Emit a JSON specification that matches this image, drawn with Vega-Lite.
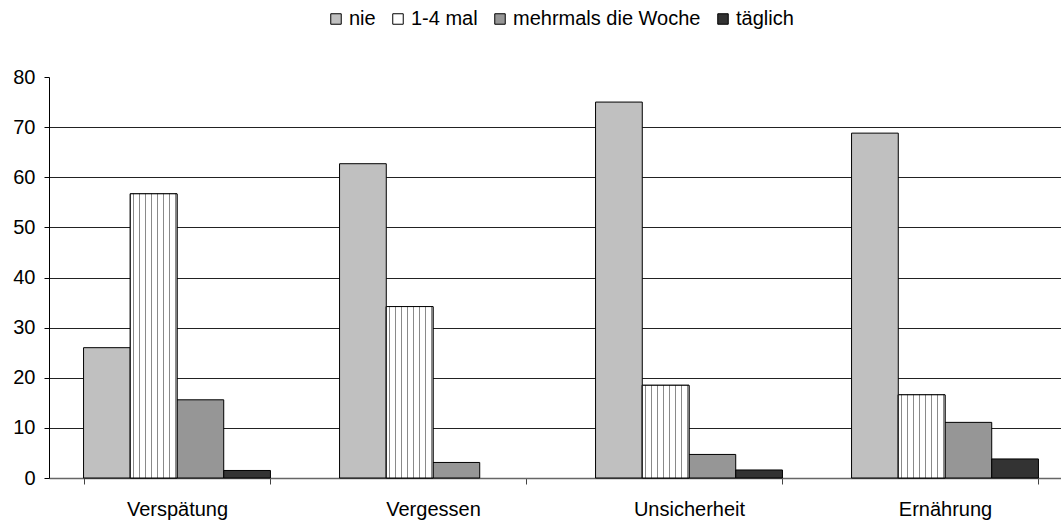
{
  "$schema": "https://vega.github.io/schema/vega-lite/v6.json",
  "autosize": "none",
  "width": 1024,
  "height": 401,
  "padding": {"left": 49, "top": 77, "right": 0, "bottom": 42},
  "background": "white",
  "config": {
    "view": {"stroke": null},
    "font": "Liberation Sans",
    "axis": {"labelFont": "Liberation Sans", "labelColor": "#000"},
    "legend": {"labelFont": "Liberation Sans", "labelColor": "#000"}
  },
  "data": {
    "values": [
      {"kategorie": "Verspätung", "haeufigkeit": "nie", "prozent": 26.0},
      {"kategorie": "Verspätung", "haeufigkeit": "1-4 mal", "prozent": 56.7},
      {"kategorie": "Verspätung", "haeufigkeit": "mehrmals die Woche", "prozent": 15.6},
      {"kategorie": "Verspätung", "haeufigkeit": "täglich", "prozent": 1.5},
      {"kategorie": "Vergessen", "haeufigkeit": "nie", "prozent": 62.7},
      {"kategorie": "Vergessen", "haeufigkeit": "1-4 mal", "prozent": 34.2},
      {"kategorie": "Vergessen", "haeufigkeit": "mehrmals die Woche", "prozent": 3.1},
      {"kategorie": "Vergessen", "haeufigkeit": "täglich", "prozent": 0},
      {"kategorie": "Unsicherheit", "haeufigkeit": "nie", "prozent": 75.0},
      {"kategorie": "Unsicherheit", "haeufigkeit": "1-4 mal", "prozent": 18.5},
      {"kategorie": "Unsicherheit", "haeufigkeit": "mehrmals die Woche", "prozent": 4.7},
      {"kategorie": "Unsicherheit", "haeufigkeit": "täglich", "prozent": 1.6},
      {"kategorie": "Ernährung", "haeufigkeit": "nie", "prozent": 68.8},
      {"kategorie": "Ernährung", "haeufigkeit": "1-4 mal", "prozent": 16.6},
      {"kategorie": "Ernährung", "haeufigkeit": "mehrmals die Woche", "prozent": 11.1},
      {"kategorie": "Ernährung", "haeufigkeit": "täglich", "prozent": 3.8}
    ]
  },
  "encoding": {
    "x": {
      "field": "kategorie",
      "type": "nominal",
      "sort": ["Verspätung", "Vergessen", "Unsicherheit", "Ernährung"],
      "scale": {"paddingInner": 0.27, "paddingOuter": 0.135},
      "axis": {
        "title": null,
        "labelAngle": 0,
        "labelFontSize": 20,
        "labelPadding": 15,
        "tickBand": "extent",
        "tickSize": 6,
        "tickColor": "#444",
        "domainColor": "#666",
        "domainWidth": 1.5,
        "grid": false
      }
    },
    "xOffset": {
      "field": "haeufigkeit",
      "type": "nominal",
      "scale": {"domain": ["nie", "1-4 mal", "mehrmals die Woche", "täglich"], "paddingInner": 0, "paddingOuter": 0}
    },
    "y": {
      "field": "prozent",
      "type": "quantitative",
      "scale": {"domain": [0, 80], "nice": false},
      "axis": {
        "title": null,
        "values": [0, 10, 20, 30, 40, 50, 60, 70, 80],
        "labelFontSize": 20,
        "labelPadding": 9,
        "tickSize": 5,
        "tickColor": "#000",
        "domainColor": "#000",
        "grid": true,
        "gridColor": {"condition": {"test": "datum.value === 80 || datum.value === 0", "value": "transparent"}, "value": "#222"},
        "gridWidth": 1
      }
    }
  },
  "layer": [
    {
      "transform": [{"filter": "datum.prozent > 0"}],
      "mark": {"type": "bar", "stroke": "#000", "strokeWidth": 1, "fillOpacity": 1},
      "encoding": {
        "fill": {
          "field": "haeufigkeit",
          "type": "nominal",
          "scale": {
            "domain": ["nie", "1-4 mal", "mehrmals die Woche", "täglich"],
            "range": ["#c0c0c0", "#ffffff", "#969696", "#333333"]
          },
          "legend": {
            "title": null,
            "orient": "none",
            "direction": "horizontal",
            "legendX": 277,
            "legendY": -68,
            "symbolType": "square",
            "symbolSize": 110,
            "symbolStrokeColor": "#000",
            "symbolStrokeWidth": 1,
            "symbolOpacity": 1,
            "labelFontSize": 20,
            "labelOffset": 3,
            "labelLimit": 0,
            "columnPadding": 12,
            "encode": {
              "symbols": {
                "update": {
                  "fill": {"signal": "datum.value === '1-4 mal' ? {gradient: 'linear', x1: 0, y1: 0, x2: 1, y2: 0, stops: [{offset: 0, color: '#ffffff'}, {offset: 0.17, color: '#ffffff'}, {offset: 0.17, color: '#666666'}, {offset: 0.29, color: '#666666'}, {offset: 0.29, color: '#ffffff'}, {offset: 0.42, color: '#ffffff'}, {offset: 0.42, color: '#666666'}, {offset: 0.54, color: '#666666'}, {offset: 0.54, color: '#ffffff'}, {offset: 0.67, color: '#ffffff'}, {offset: 0.67, color: '#666666'}, {offset: 0.79, color: '#666666'}, {offset: 0.79, color: '#ffffff'}, {offset: 1, color: '#ffffff'}]} : scale('fill', datum.value)"},
                  "stroke": {"value": "#000"},
                  "strokeWidth": {"value": 1},
                  "opacity": {"value": 1}
                }
              }
            }
          }
        }
      }
    },
    {
      "transform": [{"filter": "datum.haeufigkeit === '1-4 mal'"}],
      "mark": {
        "type": "bar",
        "stroke": "#000",
        "strokeWidth": 1,
        "fill": {"gradient": "linear", "x1": 0, "y1": 0, "x2": 1, "y2": 0, "stops": [
          {"offset": 0, "color": "#ffffff"},
          {"offset": 0.055, "color": "#ffffff"}, {"offset": 0.055, "color": "#8a8a8a"}, {"offset": 0.087, "color": "#8a8a8a"}, {"offset": 0.087, "color": "#ffffff"},
          {"offset": 0.184, "color": "#ffffff"}, {"offset": 0.184, "color": "#8a8a8a"}, {"offset": 0.216, "color": "#8a8a8a"}, {"offset": 0.216, "color": "#ffffff"},
          {"offset": 0.312, "color": "#ffffff"}, {"offset": 0.312, "color": "#8a8a8a"}, {"offset": 0.344, "color": "#8a8a8a"}, {"offset": 0.344, "color": "#ffffff"},
          {"offset": 0.440, "color": "#ffffff"}, {"offset": 0.440, "color": "#8a8a8a"}, {"offset": 0.472, "color": "#8a8a8a"}, {"offset": 0.472, "color": "#ffffff"},
          {"offset": 0.569, "color": "#ffffff"}, {"offset": 0.569, "color": "#8a8a8a"}, {"offset": 0.601, "color": "#8a8a8a"}, {"offset": 0.601, "color": "#ffffff"},
          {"offset": 0.697, "color": "#ffffff"}, {"offset": 0.697, "color": "#8a8a8a"}, {"offset": 0.729, "color": "#8a8a8a"}, {"offset": 0.729, "color": "#ffffff"},
          {"offset": 0.824, "color": "#ffffff"}, {"offset": 0.824, "color": "#8a8a8a"}, {"offset": 0.856, "color": "#8a8a8a"}, {"offset": 0.856, "color": "#ffffff"},
          {"offset": 0.952, "color": "#ffffff"}, {"offset": 0.952, "color": "#8a8a8a"}, {"offset": 0.984, "color": "#8a8a8a"}, {"offset": 0.984, "color": "#ffffff"},
          {"offset": 1, "color": "#ffffff"}
        ]}
      }
    }
  ]
}
